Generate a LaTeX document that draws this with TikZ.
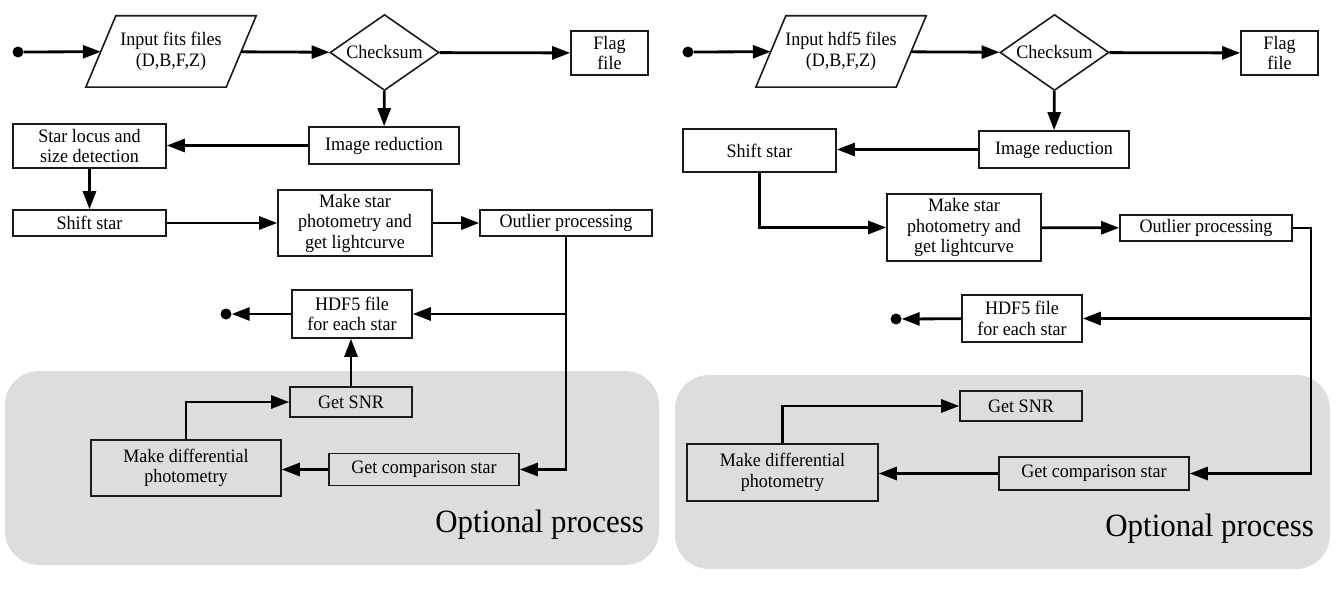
\documentclass[tikz,border=0pt]{standalone}
\usepackage{fontspec}
\setmainfont[FakeStretch=0.95]{Liberation Serif}
\usetikzlibrary{arrows.meta,shapes.geometric}
\definecolor{bg}{HTML}{DDDDDD}
\definecolor{ln}{HTML}{1A1A1A}
\newcommand\mysz{\fontsize{19}{20.5}\selectfont}
\newcommand\bigsz{\fontsize{32.5}{34}\selectfont}
\begin{document}
\begin{tikzpicture}[x=1pt,y=-1pt,
  box/.style={draw=ln, line width=1.6pt, inner sep=0pt, align=center, font=\mysz},
  plain/.style={inner sep=0pt, align=center, font=\mysz},
  frame/.style={draw=ln, line width=1.6pt},
  dec/.style={diamond, draw=ln, line width=1.6pt, inner sep=0pt, aspect=1.43, font=\mysz},
  arr/.style={draw=black, line width=2.8pt, -{Triangle[length=18pt,width=13pt]}},
  dot/.style={circle, fill=black, inner sep=0pt, minimum size=11pt},
  region/.style={fill=bg, draw=none, rounded corners=34pt},
  opt/.style={font=\bigsz, inner sep=0pt}]
\useasboundingbox (0,0) rectangle (1339,602);

% ---------- grey regions ----------
\fill[region] (5,371) rectangle (659,565);
\fill[region] (675,375) rectangle (1330,569);
\node[opt, anchor=base east] (opt1) at (644,532) {Optional process};
\node[opt, anchor=base east] (opt2) at (1314,536) {Optional process};

% ---------- left panel ----------
\node[dot] (s1) at (18,52) {};
\node[plain, minimum width=140pt, minimum height=71pt] (in1) at (171,51.5) {Input fits files\\(D,B,F,Z)};
\draw[frame] ([xshift=-15pt]in1.south west) -- ([xshift=-15pt]in1.south east) -- ([xshift=15pt]in1.north east) -- ([xshift=15pt]in1.north west) -- cycle;
\node[dec, minimum width=109pt, minimum height=76pt] (ck1) at (384.5,52.5) {Checksum};
\node[box, minimum width=77pt, minimum height=44pt] (fl1) at (609.5,53) {Flag\\file};
\node[box, minimum width=150pt, minimum height=37pt] (ir1) at (384,145.5) {Image reduction};
\node[box, minimum width=153pt, minimum height=44pt] (loc1) at (89.5,146) {Star locus and\\size detection};
\node[box, minimum width=153pt, minimum height=26pt] (sh1) at (89.5,223) {Shift star};
\node[box, minimum width=154pt, minimum height=66pt] (mk1) at (355,223) {Make star\\photometry and\\get lightcurve};
\node[box, minimum width=172pt, minimum height=26pt] (ou1) at (566,223) {Outlier processing};
\node[box, minimum width=120pt, minimum height=48pt] (hd1) at (352,314) {HDF5 file\\for each star};
\node[dot] (e1) at (226,314) {};
\node[box, minimum width=122pt, minimum height=30pt] (sn1) at (351,402) {Get SNR};
\node[box, minimum width=190pt, minimum height=56pt] (df1) at (186,468) {Make differential\\photometry};
\node[box, minimum width=190pt, minimum height=32pt] (cp1) at (424,469.5) {Get comparison star};

\draw[arr] (s1) -- (in1);
\draw[arr] (in1) -- (ck1);
\draw[arr] (ck1) -- (fl1);
\draw[arr] (ck1) -- (ir1);
\draw[arr] (ir1) -- (ir1.west -| loc1.east);
\draw[arr] (loc1) -- (sh1);
\draw[arr] (sh1) -- (mk1);
\draw[arr] (mk1) -- (ou1);
\draw[arr] (ou1.south) -- (ou1.south |- cp1.east) -- (cp1.east);
\draw[arr] (ou1.south |- hd1.east) -- (hd1.east);
\draw[arr] (hd1) -- (e1);
\draw[arr] (sn1) -- (sn1.north |- hd1.south);
\draw[arr] (df1.north) |- (sn1.west);
\draw[arr] (cp1.west) -- (cp1.west -| df1.east);

% ---------- right panel ----------
\node[dot] (s2) at (688,52) {};
\node[plain, minimum width=140pt, minimum height=71pt] (in2) at (841,51.5) {Input hdf5 files\\(D,B,F,Z)};
\draw[frame] ([xshift=-15pt]in2.south west) -- ([xshift=-15pt]in2.south east) -- ([xshift=15pt]in2.north east) -- ([xshift=15pt]in2.north west) -- cycle;
\node[dec, minimum width=109pt, minimum height=76pt] (ck2) at (1054.5,52.5) {Checksum};
\node[box, minimum width=77pt, minimum height=44pt] (fl2) at (1279.5,53) {Flag\\file};
\node[box, minimum width=150pt, minimum height=37pt] (ir2) at (1054,149.5) {Image reduction};
\node[box, minimum width=153pt, minimum height=43pt] (sh2) at (759.5,150.5) {Shift star};
\node[box, minimum width=154pt, minimum height=67pt] (mk2) at (964,227.5) {Make star\\photometry and\\get lightcurve};
\node[box, minimum width=172pt, minimum height=26pt] (ou2) at (1206,228) {Outlier processing};
\coordinate (t2) at (1311,228);
\node[box, minimum width=120pt, minimum height=47pt] (hd2) at (1022,318.5) {HDF5 file\\for each star};
\node[dot] (e2) at (896,319) {};
\node[box, minimum width=122pt, minimum height=30pt] (sn2) at (1021,406) {Get SNR};
\node[box, minimum width=191pt, minimum height=57pt] (df2) at (782.5,472.5) {Make differential\\photometry};
\node[box, minimum width=190pt, minimum height=33pt] (cp2) at (1094,473.5) {Get comparison star};

\draw[arr] (s2) -- (in2);
\draw[arr] (in2) -- (ck2);
\draw[arr] (ck2) -- (fl2);
\draw[arr] (ck2) -- (ir2);
\draw[arr] (ir2.west) -- (ir2.west -| sh2.east);
\draw[arr] (sh2.south) |- (mk2.west);
\draw[arr] (mk2) -- (ou2);
\draw[arr] (ou2.east) -- (t2) |- (cp2.east);
\draw[arr] (t2 |- hd2.east) -- (hd2.east);
\draw[arr] (hd2) -- (e2);
\draw[arr] (df2.north) |- (sn2.west);
\draw[arr] (cp2.west) -- (cp2.west -| df2.east);
\end{tikzpicture}
\end{document}
